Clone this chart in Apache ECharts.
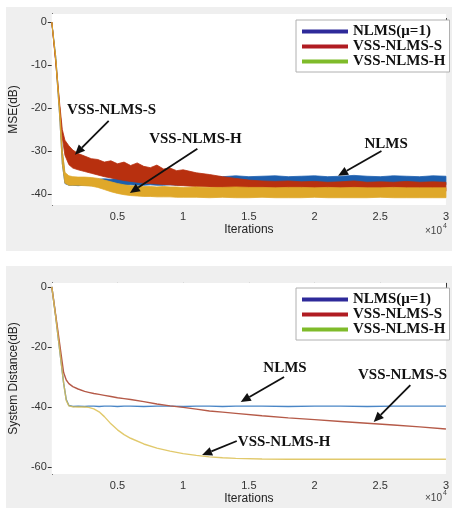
<!DOCTYPE html>
<html>
<head>
<meta charset="utf-8">
<script src="https://cdn.jsdelivr.net/npm/echarts@6/dist/echarts.min.js"></script>
<style>html,body{margin:0;padding:0;background:#fff}#c{width:452px;height:515px}</style>
</head>
<body>
<div id="c"></div>
<script>
// ---------- DATA ----------
const seriesNames = ['NLMS(μ=1)', 'VSS-NLMS-S', 'VSS-NLMS-H'];
const xTicks = [5000, 10000, 15000, 20000, 25000, 30000];
const mseTicks = [0, -10, -20, -30, -40];
const sdTicks = [0, -20, -40, -60];

// MSE (dB): noisy bands read as upper / lower envelopes
const mseIter = [0, 300, 600, 800, 1000, 1300, 1600, 2000, 2500, 3000, 3500, 4000, 4500, 5000, 5500, 6000, 6500, 7000, 7500, 8000, 8500, 9000, 9500, 10000, 11000, 12000, 13000, 14000, 15000, 16000, 17000, 18000, 19000, 20000, 21000, 22000, 23000, 24000, 25000, 26000, 27000, 28000, 29000, 30000];
const mseNlmsUpper = [0, -8, -20, -30, -35.5, -36.3, -36.5, -36.5, -36.6, -36.5, -36.6, -36.5, -36.6, -36.4, -36.5, -36.3, -36.4, -36.3, -36.2, -36.3, -36.2, -36.1, -36.2, -36.0, -36.1, -35.9, -36.0, -35.8, -36.0, -35.9, -35.8, -36.0, -35.9, -35.8, -36.0, -35.9, -35.7, -35.9, -36.0, -35.8, -35.9, -36.0, -35.8, -35.9];
const mseNlmsLower = [0, -9, -22, -33, -37.6, -38.0, -38.0, -38.1, -38.0, -38.1, -38.0, -38.0, -38.1, -38.0, -38.0, -37.9, -38.0, -38.0, -37.9, -38.0, -38.0, -37.9, -38.0, -37.9, -37.9, -38.0, -37.9, -37.8, -37.9, -37.9, -37.8, -37.9, -37.9, -37.8, -37.9, -37.8, -37.9, -37.8, -37.9, -37.8, -37.9, -37.8, -37.8, -37.9];
const mseSUpper = [0, -9, -19, -25, -27.5, -28.8, -29.8, -30.6, -31.2, -31.8, -32.0, -32.6, -32.3, -33.0, -32.6, -33.4, -32.8, -33.6, -33.9, -33.3, -34.2, -34.0, -34.6, -34.4, -35.1, -35.5, -36.0, -36.4, -36.8, -37.0, -37.1, -37.0, -37.2, -37.1, -37.3, -37.2, -37.0, -37.3, -37.2, -37.3, -37.1, -37.3, -37.2, -37.3];
const mseSLower = [0, -9.5, -20, -27, -31, -33.2, -34.0, -34.4, -34.8, -35.2, -35.6, -36.0, -36.3, -36.6, -36.9, -37.1, -37.3, -37.5, -37.6, -37.7, -37.8, -37.9, -38.0, -38.1, -38.3, -38.4, -38.6, -38.7, -38.8, -38.9, -39.0, -39.0, -39.1, -39.1, -39.2, -39.2, -39.2, -39.3, -39.3, -39.3, -39.3, -39.4, -39.4, -39.4];
const mseHUpper = [0, -8, -20, -30, -35.0, -35.8, -36.0, -36.1, -36.1, -36.2, -36.4, -36.8, -37.2, -37.6, -37.9, -38.1, -38.2, -38.3, -38.3, -38.4, -38.3, -38.4, -38.4, -38.5, -38.4, -38.5, -38.5, -38.4, -38.5, -38.5, -38.6, -38.5, -38.5, -38.6, -38.5, -38.6, -38.5, -38.6, -38.6, -38.5, -38.6, -38.6, -38.6, -38.6];
const mseHLower = [0, -9, -22, -33, -37.5, -38.0, -38.0, -38.0, -38.1, -38.2, -38.5, -39.0, -39.5, -39.9, -40.2, -40.4, -40.5, -40.6, -40.6, -40.7, -40.7, -40.7, -40.8, -40.8, -40.8, -40.9, -40.8, -40.9, -40.9, -40.8, -40.9, -40.9, -40.9, -40.8, -40.9, -40.9, -40.9, -40.9, -40.8, -40.9, -40.9, -40.9, -40.9, -40.9];

// System distance (dB)
const sdIter = [0, 300, 600, 900, 1100, 1300, 1600, 2000, 2500, 2800, 3200, 3600, 4000, 4500, 5000, 5500, 6000, 7000, 8000, 9000, 10000, 11000, 12000, 13000, 14000, 16000, 18000, 20000, 22000, 24000, 26000, 28000, 30000];
const sdNlms = [0, -10, -21, -32, -37.5, -39.5, -39.8, -39.7, -39.8, -39.7, -39.7, -39.8, -39.7, -39.7, -39.8, -39.7, -39.7, -39.8, -39.7, -39.7, -39.8, -39.7, -39.7, -39.8, -39.7, -39.7, -39.8, -39.7, -39.7, -39.8, -39.7, -39.7, -39.7];
const sdS = [0, -9.5, -19, -28.5, -31, -32.2, -33.2, -34, -34.8, -35.1, -35.5, -35.8, -36.1, -36.5, -36.9, -37.2, -37.5, -38.2, -39.0, -39.6, -40.1, -40.7, -41.3, -41.7, -42.1, -42.9, -43.6, -44.2, -44.8, -45.4, -46.0, -46.6, -47.3];
const sdH = [0, -10, -21, -32, -37.8, -39.6, -39.9, -40, -40, -40.1, -40.6, -41.6, -43.2, -45.6, -47.6, -49.2, -50.4, -52.3, -53.7, -54.7, -55.5, -56.1, -56.6, -56.9, -57.1, -57.3, -57.4, -57.4, -57.4, -57.4, -57.4, -57.4, -57.4];

// annotations (data coordinates): [grid, text, textPos, arrowFrom, arrowTo]
const notes = [
  [0, 'VSS-NLMS-S', [4550, -20.5], [4330, -23], [1760, -30.9]],
  [0, 'VSS-NLMS-H', [10930, -27.2], [11080, -29.5], [5940, -39.8]],
  [0, 'NLMS', [25450, -28.4], [25090, -30], [21790, -35.8]],
  [1, 'NLMS', [17750, -27], [17680, -30], [14380, -38.3]],
  [1, 'VSS-NLMS-S', [26700, -29.3], [27290, -32.7], [24500, -45]],
  [1, 'VSS-NLMS-H', [17680, -51.7], [14080, -51.3], [11440, -56]]
];

// ---------- STYLE ----------
const bandColors = ['#1d5fae', '#b8300f', '#dfa82a'];
const lineColors = ['#4a86c6', '#b55a48', '#dcc052'];
const legendColors = ['#2e2a9a', '#b01c22', '#7fbb2a'];
const sans = 'Liberation Sans, Arial, sans-serif';
const serif = 'Liberation Serif, Times New Roman, serif';

const chart = echarts.init(document.getElementById('c'), null, {renderer: 'canvas'});

function band(name, color, up, lo) {
  return {
    type: 'custom', name, xAxisIndex: 0, yAxisIndex: 0, silent: true,
    itemStyle: {color},
    data: [[0, 0]],
    renderItem: (params, api) => {
      const pts = [];
      for (let i = 0; i < mseIter.length; i++) pts.push(api.coord([mseIter[i], up[i]]));
      for (let i = mseIter.length - 1; i >= 0; i--) pts.push(api.coord([mseIter[i], lo[i]]));
      return {type: 'polygon', shape: {points: pts}, style: {fill: color, stroke: color, lineWidth: 0.8}};
    }
  };
}
function sdLine(name, color, vals, z, opacity) {
  return {
    type: 'line', name, xAxisIndex: 1, yAxisIndex: 1, showSymbol: false, z,
    data: sdIter.map((x, i) => [x, vals[i]]),
    lineStyle: {color, width: 1.4, opacity}, itemStyle: {color}
  };
}

const axisLine = {lineStyle: {color: '#333', width: 1}};
const labelStyle = {color: '#333', fontSize: 11, fontFamily: sans};
function xMain(gi) {
  return {
    type: 'value', gridIndex: gi, min: 0, max: 30000, position: 'bottom',
    name: 'Iterations', nameLocation: 'middle', nameGap: 19,
    nameTextStyle: {fontSize: 12, fontFamily: sans, color: '#222'},
    axisLine, splitLine: {show: false},
    axisTick: {inside: true, length: 4, customValues: xTicks, lineStyle: {color: '#333'}},
    axisLabel: {customValues: xTicks, formatter: v => String(v / 10000), margin: 6, ...labelStyle}
  };
}
function xTop(gi) {
  return {
    type: 'value', gridIndex: gi, min: 0, max: 30000, position: 'top',
    axisLine, splitLine: {show: false},
    axisTick: {inside: true, length: 4, customValues: xTicks, lineStyle: {color: '#333'}},
    axisLabel: {show: false}
  };
}
function yMain(gi, min, max, ticks, name) {
  return {
    type: 'value', gridIndex: gi, min, max, position: 'left',
    name, nameLocation: 'middle', nameGap: 24,
    nameTextStyle: {fontSize: 12, fontFamily: sans, color: '#222'},
    axisLine: {show: true, ...axisLine}, splitLine: {show: false},
    axisTick: {show: true, inside: true, length: 4, customValues: ticks, lineStyle: {color: '#333'}},
    axisLabel: {customValues: ticks, margin: 5, ...labelStyle}
  };
}
function yRight(gi, min, max, ticks) {
  return {
    type: 'value', gridIndex: gi, min, max, position: 'right',
    axisLine: {show: true, ...axisLine}, splitLine: {show: false},
    axisTick: {show: true, inside: true, length: 4, customValues: ticks, lineStyle: {color: '#333'}},
    axisLabel: {show: false}
  };
}
function legend(top) {
  return {
    left: 296, top, orient: 'vertical', itemWidth: 46, itemHeight: 4, itemGap: 0,
    padding: [4, 4, 3, 6], backgroundColor: '#fff', borderColor: '#b0b0b0', borderWidth: 1,
    selectedMode: false,
    textStyle: {fontFamily: serif, fontWeight: 'bold', fontSize: 15, color: '#111', lineHeight: 15},
    data: seriesNames.map((n, i) => ({name: n, icon: 'rect', itemStyle: {color: legendColors[i], borderWidth: 0}}))
  };
}

chart.setOption({
  animation: false,
  backgroundColor: '#ffffff',
  grid: [
    {left: 41, top: 14, width: 409, height: 191, backgroundColor: '#fff', show: true, borderWidth: 0, z: 1},
    {left: 41, top: 283, width: 409, height: 191, backgroundColor: '#fff', show: true, borderWidth: 0, z: 1}
  ],
  xAxis: [xMain(0), xMain(1), xTop(0), xTop(1)],
  yAxis: [
    yMain(0, -42.6, 1.9, mseTicks, 'MSE(dB)'),
    yMain(1, -62.3, 1.3, sdTicks, 'System Distance(dB)'),
    yRight(0, -42.6, 1.9, mseTicks),
    yRight(1, -62.3, 1.3, sdTicks)
  ],
  legend: [legend(20), legend(288)],
  series: [
    band(seriesNames[0], bandColors[0], mseNlmsUpper, mseNlmsLower),
    band(seriesNames[1], bandColors[1], mseSUpper, mseSLower),
    band(seriesNames[2], bandColors[2], mseHUpper, mseHLower),
    sdLine(seriesNames[0], lineColors[0], sdNlms, 2, 1),
    sdLine(seriesNames[1], lineColors[1], sdS, 3, 1),
    sdLine(seriesNames[2], lineColors[2], sdH, 4, 0.85)
  ]
});

// background panels, annotations, x10^4 labels
const g = [
  {type: 'rect', z: -10, silent: true, shape: {x: 6, y: 7, width: 446, height: 244}, style: {fill: '#efefef'}},
  {type: 'rect', z: -10, silent: true, shape: {x: 6, y: 266, width: 446, height: 242}, style: {fill: '#efefef'}}
];
[0, 1].forEach(gi => {
  const p = chart.convertToPixel({gridIndex: gi}, [30000, 0]);
  const yc = gi === 0 ? 231 : 498;
  g.push({type: 'text', z: 20, x: p[0] - 4, y: yc, style: {text: '×10', align: 'right', verticalAlign: 'middle', fontSize: 10, fontFamily: sans, fill: '#444'}});
  g.push({type: 'text', z: 20, x: p[0] - 3, y: yc - 5, style: {text: '4', align: 'left', verticalAlign: 'middle', fontSize: 7, fontFamily: sans, fill: '#444'}});
});
notes.forEach(([gi, txt, tp, from, to]) => {
  const t = chart.convertToPixel({gridIndex: gi}, tp);
  const a = chart.convertToPixel({gridIndex: gi}, from);
  const b = chart.convertToPixel({gridIndex: gi}, to);
  g.push({type: 'text', z: 30, x: t[0], y: t[1], style: {text: txt, align: 'center', verticalAlign: 'middle', fontFamily: serif, fontWeight: 'bold', fontSize: 15, fill: '#111'}});
  const dx = b[0] - a[0], dy = b[1] - a[1], L = Math.hypot(dx, dy);
  const ux = dx / L, uy = dy / L, hl = 10, hw = 4.5;
  const bx = b[0] - ux * hl, by = b[1] - uy * hl;
  g.push({type: 'line', z: 30, shape: {x1: a[0], y1: a[1], x2: bx, y2: by}, style: {stroke: '#111', lineWidth: 1.8}});
  g.push({type: 'polygon', z: 30, shape: {points: [[b[0], b[1]], [bx - uy * hw, by + ux * hw], [bx + uy * hw, by - ux * hw]]}, style: {fill: '#111'}});
});
chart.setOption({graphic: g});
</script>
</body>
</html>
